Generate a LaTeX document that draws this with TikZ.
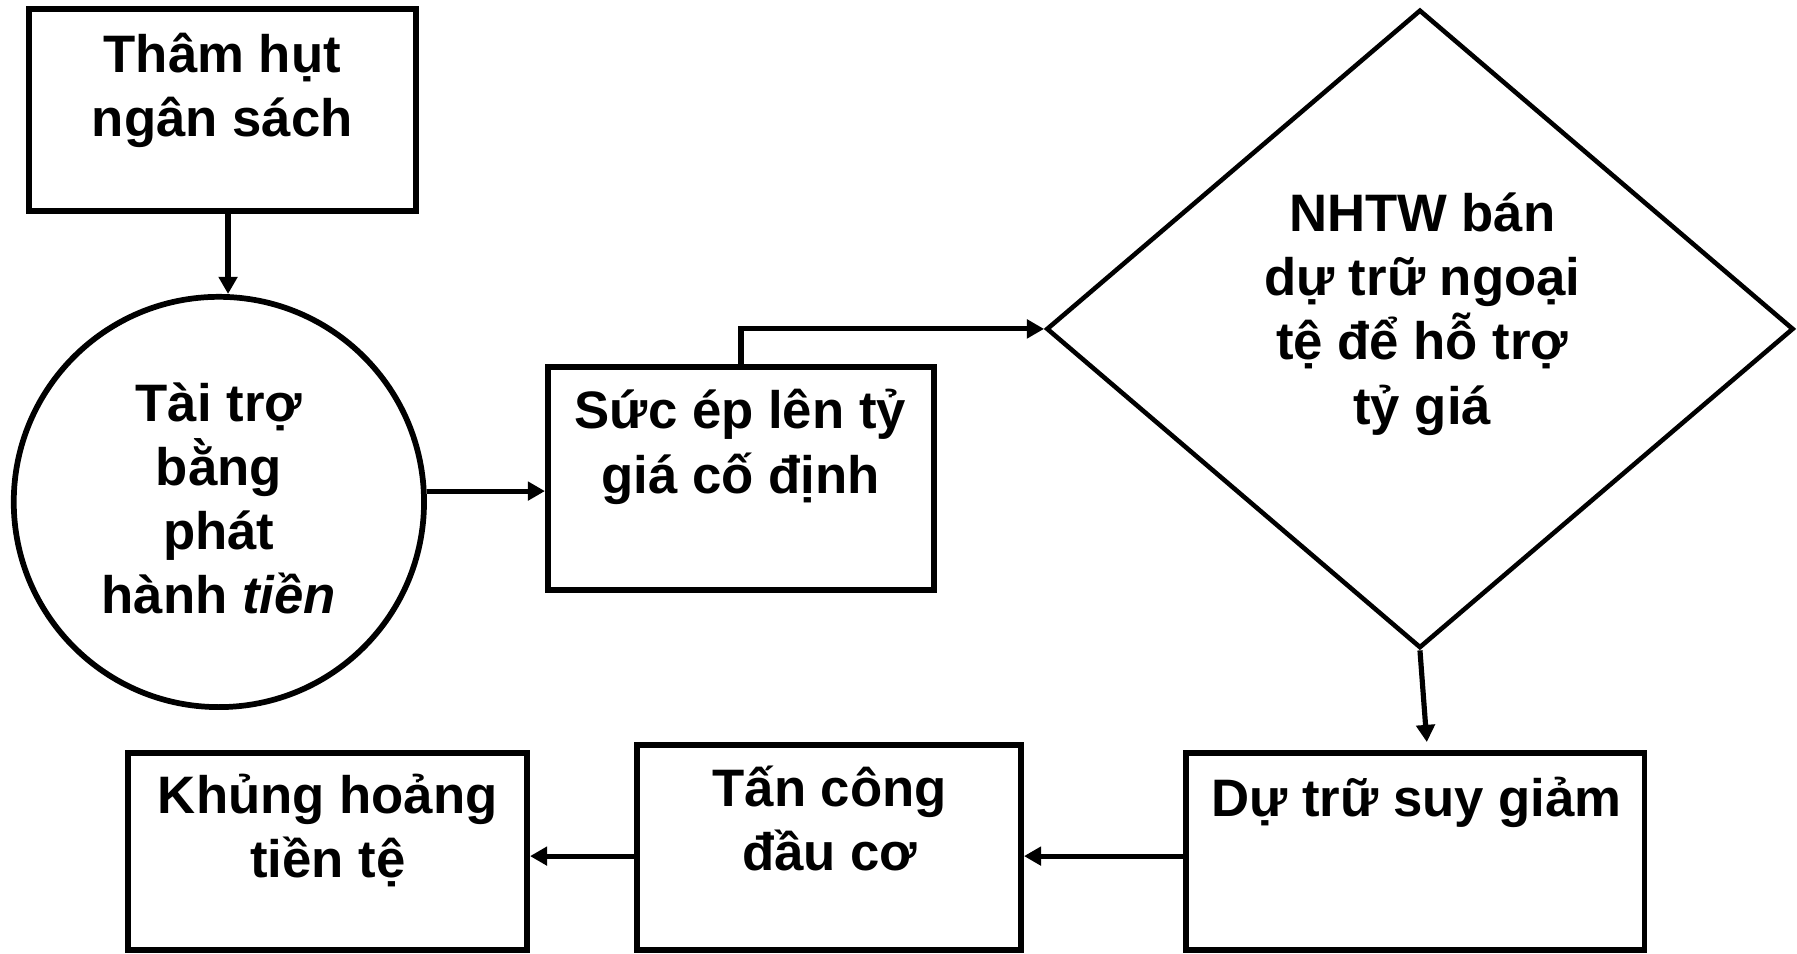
\documentclass[tikz,border=0pt]{standalone}
\usepackage{fontspec}
\setmainfont{Liberation Sans}
\usetikzlibrary{shapes.geometric,arrows.meta}
\tikzset{
	box/.style={draw,rectangle,line width=5pt,inner sep=0pt},
	txt/.style={align=center,inner sep=0pt,font=\fontsize{46}{56}\selectfont\bfseries},
}
\begin{document}
\begin{tikzpicture}[x=1pt,y=-1pt,line width=4.5pt,>={Triangle[length=15pt,width=16pt]}]
	\useasboundingbox(0,0)rectangle(1568,832);
	\node[box,minimum width=338pt,minimum height=176pt](deficit)at(194,96){};
	\node[draw,circle,line width=5pt,minimum size=358pt,inner sep=0pt](financing)at(191,438){};
	\node[box,minimum width=337pt,minimum height=195pt](pressure)at(646.5,417.5){};
	\node[draw,diamond,line width=4pt,minimum width=652pt,minimum height=557pt,inner sep=0pt](support)at(1239,287){};
	\node[box,minimum width=400pt,minimum height=172pt](reserves)at(1235,743){};
	\node[box,minimum width=335pt,minimum height=179pt](attack)at(723.5,739.5){};
	\node[box,minimum width=348pt,minimum height=172pt](crisis)at(286,743){};
	\node[txt](deficittext)at(194,79){Thâm hụt\\ngân sách};
	\node[txt](financingtext)at(191,435){Tài trợ\\bằng\\phát\\hành \textit{tiền}};
	\node[txt](pressuretext)at(646,390){Sức ép lên tỷ\\giá cố định};
	\node[txt](supporttext)at(1241,274){NHTW bán\\dự trữ ngoại\\tệ để hỗ trợ\\tỷ giá};
	\node[txt](reservestext)at(1236,700){Dự trữ suy giảm};
	\node[txt](attacktext)at(724,714){Tấn công\\đầu cơ};
	\node[txt](crisistext)at(286,725){Khủng hoảng\\tiền tệ};
	\draw[->]([xshift=5pt]deficit.south)--([xshift=5pt]deficit.south|-financing.north);
	\draw[->](financing.3)--(financing.3-|pressure.west);
	\draw[->](pressure.north)|-(support.west);
	\draw[->](support.south)--([xshift=10pt,yshift=7pt]reserves.north);
	\draw[->]([yshift=-4pt]reserves.west)--([yshift=-4pt]reserves.west-|attack.east);
	\draw[->]([yshift=-7.5pt]attack.west)--([yshift=-7.5pt]attack.west-|crisis.east);
\end{tikzpicture}
\end{document}
